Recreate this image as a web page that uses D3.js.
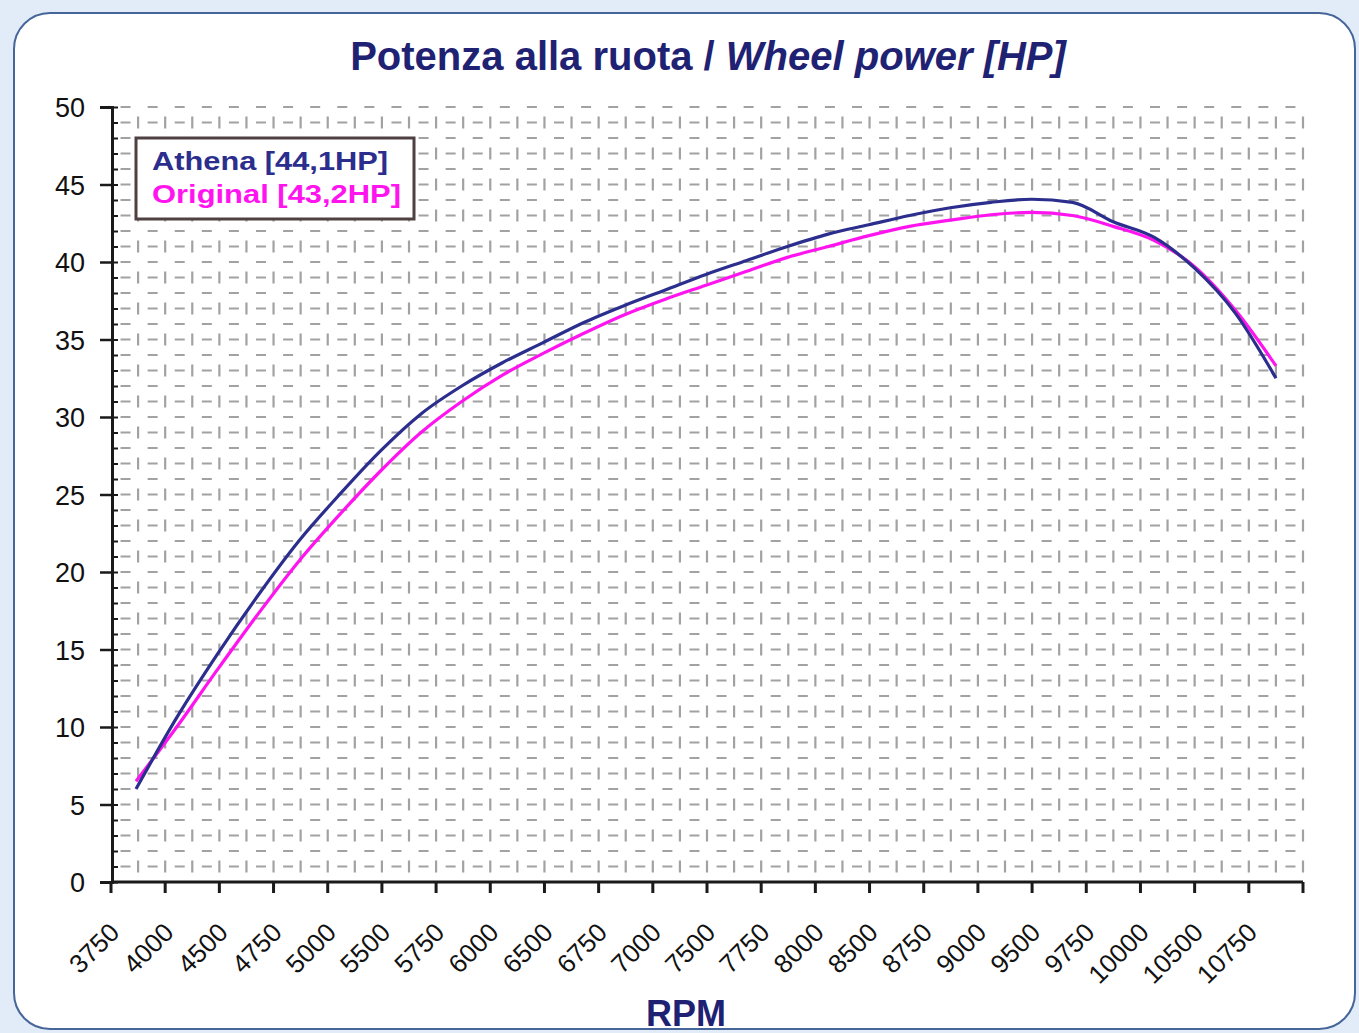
<!DOCTYPE html>
<html>
<head>
<meta charset="utf-8">
<script src="https://cdn.jsdelivr.net/npm/d3@7"></script>
<style>
  html, body { margin: 0; padding: 0; background: #e2ecf8; }
  svg { display: block; }
  text { font-family: Arial, "Liberation Sans", sans-serif; }
</style>
</head>
<body>
<svg id="chart" width="1359" height="1033"></svg>
<script>
// ---- data ----
const categories = ["3750","4000","4500","4750","5000","5500","5750","6000","6500","6750","7000",
  "7500","7750","8000","8500","8750","9000","9500","9750","10000","10500","10750"];
const rpm = [3750,4000,4250,4500,4750,5000,5250,5500,5750,6000,6250,6500,6750,7000,7250,7500,
  7750,8000,8250,8500,8750,9000,9250,9500,9750,10000,10250,10500,10750];
const athena = [6.0,10.6,14.7,18.5,22.0,25.0,27.8,30.2,32.0,33.5,34.8,36.1,37.2,38.2,39.2,40.1,
  41.0,41.8,42.4,43.0,43.5,43.85,44.05,43.85,42.6,41.6,39.6,36.7,32.5];
const original = [6.5,10.0,13.7,17.3,20.7,23.7,26.5,29.0,31.0,32.7,34.1,35.4,36.6,37.6,38.5,39.4,
  40.3,41.0,41.7,42.3,42.7,43.05,43.2,43.0,42.3,41.4,39.7,36.9,33.3];
const yTicks = [0,5,10,15,20,25,30,35,40,45,50];
const legendLabels = ["Athena [44,1HP]", "Original [43,2HP]"];
const titleMain = "Potenza alla ruota / ";
const titleItalic = "Wheel power [HP]";
const xTitle = "RPM";

// ---- layout ----
const svg = d3.select("#chart");
const L = 112, R = 1303, T = 107, B = 882;
const navy = "#2c2e8e", magenta = "#ff14f0", grid = "#a2a2a2";

svg.append("rect").attr("x", 0).attr("y", 0).attr("width", 1359).attr("height", 1033).attr("fill", "#e2ecf8");
svg.append("rect").attr("x", 14).attr("y", 13).attr("width", 1341).attr("height", 1016)
  .attr("rx", 36).attr("ry", 36).attr("fill", "#ffffff").attr("stroke", "#46669a").attr("stroke-width", 2);

const xBand = d3.scaleBand().domain(categories).range([L - 1, R]).paddingInner(0).paddingOuter(0);
const xR = d3.scaleLinear().domain([3750, 10750]).range([136, 1276]);
const y = d3.scaleLinear().domain([0, 50]).range([B, T]);

// ---- grid ----
const bw = xBand.bandwidth();
const gx = d3.range(1, categories.length * 2 + 1).map(k => (L - 1) + k * bw / 2);
const gy = d3.range(1, 51);
const rowH = y(0) - y(1);
const gridG = svg.append("g");
gridG.selectAll("line.h").data(gy).join("line")
  .attr("x1", L).attr("x2", R + 4).attr("y1", d => y(d)).attr("y2", d => y(d))
  .attr("stroke", grid).attr("stroke-width", 2.2)
  .attr("stroke-dasharray", `10,${bw / 2 - 10}`)
  .attr("stroke-dashoffset", -(bw / 4 - 5));
gridG.selectAll("line.v").data(gx).join("line")
  .attr("x1", d => d).attr("x2", d => d).attr("y1", B).attr("y2", T)
  .attr("stroke", grid).attr("stroke-width", 2.2)
  .attr("stroke-dasharray", `12,${2 * rowH - 12}`)
  .attr("stroke-dashoffset", -(rowH - 6));

// ---- axes ----
const yAxis = d3.axisLeft(y).tickValues(yTicks).tickSize(12).tickPadding(15).tickFormat(d3.format("d"));
const yg = svg.append("g").attr("transform", `translate(${L},0)`).call(yAxis);
yg.select(".domain").attr("stroke", "#1a1a1a").attr("stroke-width", 3);
yg.selectAll(".tick line").attr("stroke", "#1a1a1a").attr("stroke-width", 2.5);
yg.selectAll(".tick text").attr("font-size", 27).attr("fill", "#111").attr("dy", "0.36em");
const yMinor = svg.append("g").attr("transform", `translate(${L},0)`)
  .call(d3.axisRight(y).tickValues(d3.range(0, 51)).tickSize(6).tickFormat(""));
yMinor.select(".domain").remove();
yMinor.selectAll(".tick line").attr("stroke", "#1a1a1a").attr("stroke-width", 2);

const xAxis = d3.axisBottom(xBand).tickSize(11).tickFormat(d => d);
const xg = svg.append("g").attr("transform", `translate(0,${B})`).call(xAxis);
xg.select(".domain").attr("stroke", "#1a1a1a").attr("stroke-width", 3)
  .attr("d", `M${L - 1},0H${R}`);
xg.selectAll(".tick").attr("transform", d => `translate(${xBand(d)},0)`);
xg.selectAll(".tick line").attr("stroke", "#1a1a1a").attr("stroke-width", 3);
xg.selectAll(".tick text")
  .attr("font-size", 26).attr("fill", "#111")
  .attr("text-anchor", "end").attr("dy", 0)
  .attr("transform", "translate(10,52) rotate(-45)")
  .attr("x", 0).attr("y", 0);
xg.append("line").attr("x1", R).attr("x2", R).attr("y1", 0).attr("y2", 11)
  .attr("stroke", "#1a1a1a").attr("stroke-width", 3);

// ---- lines ----
const lineGen = vals => d3.line().x((d, i) => xR(rpm[i])).y(d => y(d)).curve(d3.curveMonotoneX)(vals);
svg.append("path").attr("d", lineGen(original)).attr("fill", "none")
  .attr("stroke", magenta).attr("stroke-width", 3.2);
svg.append("path").attr("d", lineGen(athena)).attr("fill", "none")
  .attr("stroke", navy).attr("stroke-width", 3.2);

// ---- legend ----
svg.append("rect").attr("x", 136).attr("y", 138).attr("width", 278).attr("height", 81)
  .attr("fill", "#fff").attr("stroke", "#4f4141").attr("stroke-width", 3);
svg.append("text").attr("x", 152).attr("y", 170).attr("font-size", 25).attr("font-weight", "bold")
  .attr("fill", navy).attr("textLength", 236).attr("lengthAdjust", "spacingAndGlyphs").text(legendLabels[0]);
svg.append("text").attr("x", 152).attr("y", 203).attr("font-size", 25).attr("font-weight", "bold")
  .attr("fill", magenta).attr("textLength", 249).attr("lengthAdjust", "spacingAndGlyphs").text(legendLabels[1]);

// ---- titles ----
const t = svg.append("text").attr("x", 708).attr("y", 70).attr("text-anchor", "middle")
  .attr("font-size", 40).attr("font-weight", "bold").attr("fill", "#1f2273");
t.append("tspan").text(titleMain);
t.append("tspan").attr("font-style", "italic").text(titleItalic);

svg.append("text").attr("x", 686).attr("y", 1026).attr("text-anchor", "middle")
  .attr("font-size", 36).attr("font-weight", "bold").attr("fill", "#1f2273").text(xTitle);
</script>
</body>
</html>
